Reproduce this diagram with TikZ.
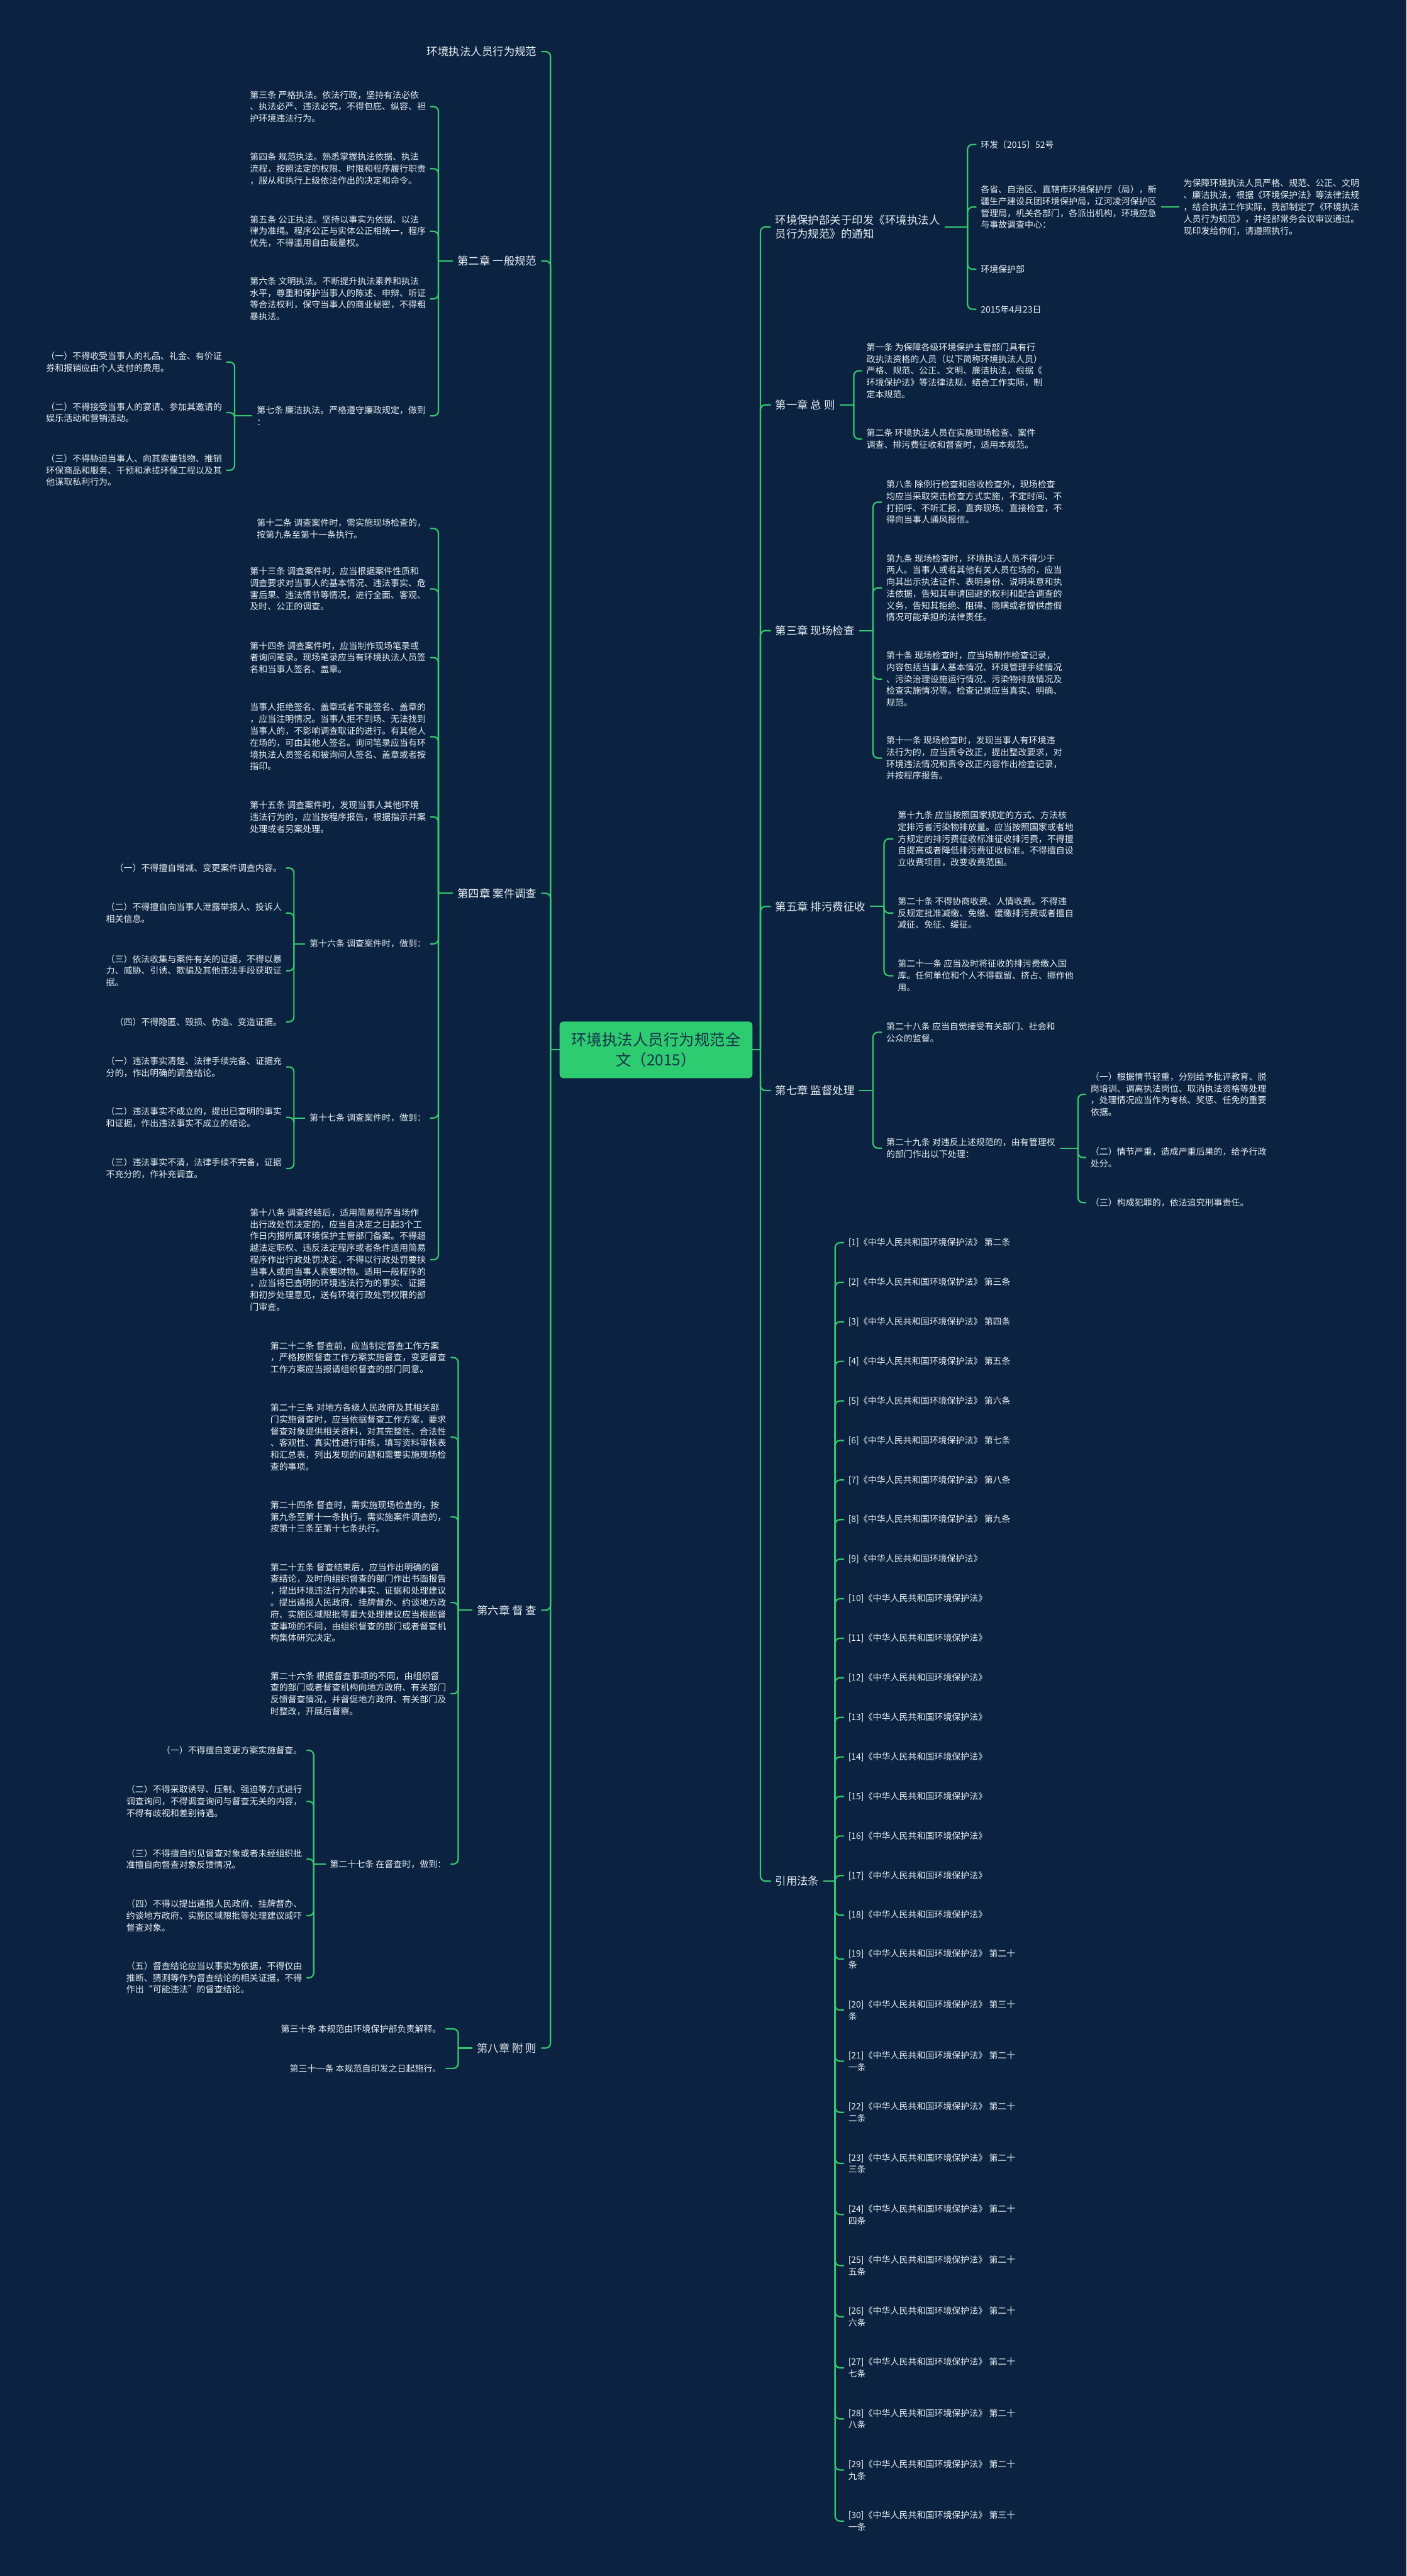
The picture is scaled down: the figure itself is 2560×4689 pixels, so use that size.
\documentclass[tikz,border=0pt]{standalone}
\usepackage{fontspec}
\setmainfont{Noto Sans CJK SC}
\definecolor{bgc}{HTML}{0B2341}
\definecolor{lineg}{HTML}{35C96F}
\definecolor{rootg}{HTML}{2ECC71}
\definecolor{roott}{HTML}{17324A}
\definecolor{txtc}{HTML}{E9EEF2}
\newcommand{\stubL}[2]{\draw[conn] (#1.west) -- (#1.west -| #2,0);}
\newcommand{\kidL}[3]{\draw[conn] (#1.west -| #2,0) |- (#3.east);}
\newcommand{\stubR}[2]{\draw[conn] (#1.east) -- (#1.east -| #2,0);}
\newcommand{\kidR}[3]{\draw[conn] (#1.east -| #2,0) |- (#3.west);}
\begin{document}
\begin{tikzpicture}[x=1pt,y=-1pt,
  conn/.style={draw=lineg, line width=2.5pt, rounded corners=9pt},
  labA/.style={text=txtc, font=\fontsize{20}{26}\selectfont, inner sep=0pt, outer xsep=8pt, align=left},
  labB/.style={text=txtc, font=\fontsize{16}{21.5}\selectfont, inner sep=0pt, outer xsep=8pt, align=left},
  rootbox/.style={fill=rootg, rounded corners=7pt, minimum width=351pt, minimum height=103pt, text=roott, font=\fontsize{28}{37}\selectfont, align=center, inner sep=0pt}]
\useasboundingbox (0,0) rectangle (2560,4689);
\fill[bgc] (0,0) rectangle (2560,4689);

% root
\node[rootbox] (root) at (1194,1911) {环境执法人员行为规范全\\文（2015）};
\coordinate (tl) at (1002,1911);
\coordinate (tr) at (1384,1911);

% ---------------- LEFT ----------------
\node[labA,anchor=east] (L0) at (985,94) {环境执法人员行为规范};
\node[labA,anchor=east] (L1) at (985,475) {第二章 一般规范};
\node[labA,anchor=east] (L2) at (985,1626) {第四章 案件调查};
\node[labA,anchor=east] (L3) at (985,2931) {第六章 督 查};
\node[labA,anchor=east] (L4) at (985,3728) {第八章 附 则};

% chapter 2
\node[labB,anchor=east] (L1a) at (783,194) {第三条 严格执法。依法行政，坚持有法必依\\、执法必严、违法必究，不得包庇、纵容、袒\\护环境违法行为。};
\node[labB,anchor=east] (L1b) at (783,307) {第四条 规范执法。熟悉掌握执法依据、执法\\流程，按照法定的权限、时限和程序履行职责\\，服从和执行上级依法作出的决定和命令。};
\node[labB,anchor=east] (L1c) at (783,421) {第五条 公正执法。坚持以事实为依据、以法\\律为准绳。程序公正与实体公正相统一，程序\\优先，不得滥用自由裁量权。};
\node[labB,anchor=east] (L1d) at (783,544) {第六条 文明执法。不断提升执法素养和执法\\水平，尊重和保护当事人的陈述、申辩、听证\\等合法权利，保守当事人的商业秘密，不得粗\\暴执法。};
\node[labB,anchor=east] (L1e) at (783,757) {第七条 廉洁执法。严格遵守廉政规定，做到\\：};
\node[labB,anchor=east] (L1e1) at (412,659) {（一）不得收受当事人的礼品、礼金、有价证\\券和报销应由个人支付的费用。};
\node[labB,anchor=east] (L1e2) at (412,751) {（二）不得接受当事人的宴请、参加其邀请的\\娱乐活动和营销活动。};
\node[labB,anchor=east] (L1e3) at (412,856) {（三）不得胁迫当事人、向其索要钱物、推销\\环保商品和服务、干预和承揽环保工程以及其\\他谋取私利行为。};

% chapter 4
\node[labB,anchor=east] (L2a) at (783,962) {第十二条 调查案件时，需实施现场检查的，\\按第九条至第十一条执行。};
\node[labB,anchor=east] (L2b) at (783,1072) {第十三条 调查案件时，应当根据案件性质和\\调查要求对当事人的基本情况、违法事实、危\\害后果、违法情节等情况，进行全面、客观、\\及时、公正的调查。};
\node[labB,anchor=east] (L2c) at (783,1197) {第十四条 调查案件时，应当制作现场笔录或\\者询问笔录。现场笔录应当有环境执法人员签\\名和当事人签名、盖章。};
\node[labB,anchor=east] (L2d) at (783,1341) {当事人拒绝签名、盖章或者不能签名、盖章的\\，应当注明情况。当事人拒不到场、无法找到\\当事人的，不影响调查取证的进行。有其他人\\在场的，可由其他人签名。询问笔录应当有环\\境执法人员签名和被询问人签名、盖章或者按\\指印。};
\node[labB,anchor=east] (L2e) at (783,1487) {第十五条 调查案件时，发现当事人其他环境\\违法行为的，应当按程序报告，根据指示并案\\处理或者另案处理。};
\node[labB,anchor=east] (L2f) at (783,1718) {第十六条 调查案件时，做到：};
\node[labB,anchor=east] (L2g) at (783,2035) {第十七条 调查案件时，做到：};
\node[labB,anchor=east] (L2h) at (783,2293) {第十八条 调查终结后，适用简易程序当场作\\出行政处罚决定的，应当自决定之日起3个工\\作日内报所属环境保护主管部门备案。不得超\\越法定职权、违反法定程序或者条件适用简易\\程序作出行政处罚决定，不得以行政处罚要挟\\当事人或向当事人索要财物。适用一般程序的\\，应当将已查明的环境违法行为的事实、证据\\和初步处理意见，送有环境行政处罚权限的部\\门审查。};
\node[labB,anchor=east] (L2f1) at (521,1580) {（一）不得擅自增减、变更案件调查内容。};
\node[labB,anchor=east] (L2f2) at (521,1662) {（二）不得擅自向当事人泄露举报人、投诉人\\相关信息。};
\node[labB,anchor=east] (L2f3) at (521,1767) {（三）依法收集与案件有关的证据，不得以暴\\力、威胁、引诱、欺骗及其他违法手段获取证\\据。};
\node[labB,anchor=east] (L2f4) at (521,1860) {（四）不得隐匿、毁损、伪造、变造证据。};
\node[labB,anchor=east] (L2g1) at (521,1942) {（一）违法事实清楚、法律手续完备、证据充\\分的，作出明确的调查结论。};
\node[labB,anchor=east] (L2g2) at (521,2034) {（二）违法事实不成立的，提出已查明的事实\\和证据，作出违法事实不成立的结论。};
\node[labB,anchor=east] (L2g3) at (521,2127) {（三）违法事实不清，法律手续不完备，证据\\不充分的，作补充调查。};

% chapter 6
\node[labB,anchor=east] (L3a) at (820,2471) {第二十二条 督查前，应当制定督查工作方案\\，严格按照督查工作方案实施督查，变更督查\\工作方案应当报请组织督查的部门同意。};
\node[labB,anchor=east] (L3b) at (820,2616) {第二十三条 对地方各级人民政府及其相关部\\门实施督查时，应当依据督查工作方案，要求\\督查对象提供相关资料，对其完整性、合法性\\、客观性、真实性进行审核，填写资料审核表\\和汇总表，列出发现的问题和需要实施现场检\\查的事项。};
\node[labB,anchor=east] (L3c) at (820,2761) {第二十四条 督查时，需实施现场检查的，按\\第九条至第十一条执行。需实施案件调查的，\\按第十三条至第十七条执行。};
\node[labB,anchor=east] (L3d) at (820,2917) {第二十五条 督查结束后，应当作出明确的督\\查结论，及时向组织督查的部门作出书面报告\\，提出环境违法行为的事实、证据和处理建议\\。提出通报人民政府、挂牌督办、约谈地方政\\府、实施区域限批等重大处理建议应当根据督\\查事项的不同，由组织督查的部门或者督查机\\构集体研究决定。};
\node[labB,anchor=east] (L3e) at (820,3083) {第二十六条 根据督查事项的不同，由组织督\\查的部门或者督查机构向地方政府、有关部门\\反馈督查情况，并督促地方政府、有关部门及\\时整改，开展后督察。};
\node[labB,anchor=east] (L3f) at (820,3393) {第二十七条 在督查时，做到：};
\node[labB,anchor=east] (L3f1) at (558,3186) {（一）不得擅自变更方案实施督查。};
\node[labB,anchor=east] (L3f2) at (558,3279) {（二）不得采取诱导、压制、强迫等方式进行\\调查询问，不得调查询问与督查无关的内容，\\不得有歧视和差别待遇。};
\node[labB,anchor=east] (L3f3) at (558,3384) {（三）不得擅自约见督查对象或者未经组织批\\准擅自向督查对象反馈情况。};
\node[labB,anchor=east] (L3f4) at (558,3487) {（四）不得以提出通报人民政府、挂牌督办、\\约谈地方政府、实施区域限批等处理建议威吓\\督查对象。};
\node[labB,anchor=east] (L3f5) at (558,3600) {（五）督查结论应当以事实为依据，不得仅由\\推断、猜测等作为督查结论的相关证据，不得\\作出“可能违法”的督查结论。};

% chapter 8
\node[labB,anchor=east] (L4a) at (811,3693) {第三十条 本规范由环境保护部负责解释。};
\node[labB,anchor=east] (L4b) at (811,3765) {第三十一条 本规范自印发之日起施行。};

% ---------------- RIGHT ----------------
\node[labA,anchor=west] (R0) at (1403,413) {环境保护部关于印发《环境执法人\\员行为规范》的通知};
\node[labA,anchor=west] (R1) at (1403,737) {第一章 总 则};
\node[labA,anchor=west] (R2) at (1403,1148) {第三章 现场检查};
\node[labA,anchor=west] (R3) at (1403,1650) {第五章 排污费征收};
\node[labA,anchor=west] (R4) at (1403,1985) {第七章 监督处理};
\node[labA,anchor=west] (R5) at (1403,3424) {引用法条};

\node[labB,anchor=west] (R0a) at (1777,263) {环发〔2015〕52号};
\node[labB,anchor=west] (R0b) at (1777,377) {各省、自治区、直辖市环境保护厅（局），新\\疆生产建设兵团环境保护局，辽河凌河保护区\\管理局，机关各部门，各派出机构，环境应急\\与事故调查中心：};
\node[labB,anchor=west] (R0c) at (1777,490) {环境保护部};
\node[labB,anchor=west] (R0d) at (1777,563) {2015年4月23日};
\node[labB,anchor=west] (R0b1) at (2146,377) {为保障环境执法人员严格、规范、公正、文明\\、廉洁执法，根据《环境保护法》等法律法规\\，结合执法工作实际，我部制定了《环境执法\\人员行为规范》，并经部常务会议审议通过。\\现印发给你们，请遵照执行。};

\node[labB,anchor=west] (R1a) at (1569,675) {第一条 为保障各级环境保护主管部门具有行\\政执法资格的人员（以下简称环境执法人员）\\严格、规范、公正、文明、廉洁执法，根据《\\环境保护法》等法律法规，结合工作实际，制\\定本规范。};
\node[labB,anchor=west] (R1b) at (1569,799) {第二条 环境执法人员在实施现场检查、案件\\调查、排污费征收和督查时，适用本规范。};

\node[labB,anchor=west] (R2a) at (1605,914) {第八条 除例行检查和验收检查外，现场检查\\均应当采取突击检查方式实施，不定时间、不\\打招呼、不听汇报，直奔现场、直接检查，不\\得向当事人通风报信。};
\node[labB,anchor=west] (R2b) at (1605,1070) {第九条 现场检查时，环境执法人员不得少于\\两人。当事人或者其他有关人员在场的，应当\\向其出示执法证件、表明身份、说明来意和执\\法依据，告知其申请回避的权利和配合调查的\\义务，告知其拒绝、阻碍、隐瞒或者提供虚假\\情况可能承担的法律责任。};
\node[labB,anchor=west] (R2c) at (1605,1236) {第十条 现场检查时，应当场制作检查记录，\\内容包括当事人基本情况、环境管理手续情况\\、污染治理设施运行情况、污染物排放情况及\\检查实施情况等。检查记录应当真实、明确、\\规范。};
\node[labB,anchor=west] (R2d) at (1605,1380) {第十一条 现场检查时，发现当事人有环境违\\法行为的，应当责令改正，提出整改要求，对\\环境违法情况和责令改正内容作出检查记录，\\并按程序报告。};

\node[labB,anchor=west] (R3a) at (1626,1527) {第十九条 应当按照国家规定的方式、方法核\\定排污者污染物排放量。应当按照国家或者地\\方规定的排污费征收标准征收排污费，不得擅\\自提高或者降低排污费征收标准。不得擅自设\\立收费项目，改变收费范围。};
\node[labB,anchor=west] (R3b) at (1626,1662) {第二十条 不得协商收费、人情收费。不得违\\反规定批准减缴、免缴、缓缴排污费或者擅自\\减征、免征、缓征。};
\node[labB,anchor=west] (R3c) at (1626,1776) {第二十一条 应当及时将征收的排污费缴入国\\库。任何单位和个人不得截留、挤占、挪作他\\用。};

\node[labB,anchor=west] (R4a) at (1605,1879) {第二十八条 应当自觉接受有关部门、社会和\\公众的监督。};
\node[labB,anchor=west] (R4b) at (1605,2090) {第二十九条 对违反上述规范的，由有管理权\\的部门作出以下处理：};
\node[labB,anchor=west] (R4b1) at (1977,1992) {（一）根据情节轻重，分别给予批评教育、脱\\岗培训、调离执法岗位、取消执法资格等处理\\，处理情况应当作为考核、奖惩、任免的重要\\依据。};
\node[labB,anchor=west] (R4b2) at (1977,2107) {（二）情节严重，造成严重后果的，给予行政\\处分。};
\node[labB,anchor=west] (R4b3) at (1977,2189) {（三）构成犯罪的，依法追究刑事责任。};

% references
\foreach \i/\t in {1/第二条,2/第三条,3/第四条,4/第五条,5/第六条,6/第七条,7/第八条,8/第九条}
  {\node[labB,anchor=west] (r\i) at (1536,{2262+(\i-1)*72}) {[\i]《中华人民共和国环境保护法》 \t};}
\foreach \i in {9,...,18}
  {\node[labB,anchor=west] (r\i) at (1536,{2262+(\i-1)*72}) {[\i]《中华人民共和国环境保护法》};}
\node[labB,anchor=west] (r19) at (1536,3566) {[19]《中华人民共和国环境保护法》 第二十\\条};
\node[labB,anchor=west] (r20) at (1536,3659) {[20]《中华人民共和国环境保护法》 第三十\\条};
\node[labB,anchor=west] (r21) at (1536,3752) {[21]《中华人民共和国环境保护法》 第二十\\一条};
\node[labB,anchor=west] (r22) at (1536,3845) {[22]《中华人民共和国环境保护法》 第二十\\二条};
\node[labB,anchor=west] (r23) at (1536,3938) {[23]《中华人民共和国环境保护法》 第二十\\三条};
\node[labB,anchor=west] (r24) at (1536,4031) {[24]《中华人民共和国环境保护法》 第二十\\四条};
\node[labB,anchor=west] (r25) at (1536,4124) {[25]《中华人民共和国环境保护法》 第二十\\五条};
\node[labB,anchor=west] (r26) at (1536,4217) {[26]《中华人民共和国环境保护法》 第二十\\六条};
\node[labB,anchor=west] (r27) at (1536,4310) {[27]《中华人民共和国环境保护法》 第二十\\七条};
\node[labB,anchor=west] (r28) at (1536,4403) {[28]《中华人民共和国环境保护法》 第二十\\八条};
\node[labB,anchor=west] (r29) at (1536,4496) {[29]《中华人民共和国环境保护法》 第二十\\九条};
\node[labB,anchor=west] (r30) at (1536,4589) {[30]《中华人民共和国环境保护法》 第三十\\一条};

% ---------------- CONNECTORS ----------------
\draw[conn] (root.west) -- (tl);
\draw[conn] (root.east) -- (tr);
\foreach \n in {L0,L1,L2,L3,L4} {\draw[conn] (tl) |- (\n.east);}
\foreach \n in {R0,R1,R2,R3,R4,R5} {\draw[conn] (tr) |- (\n.west);}

\stubL{L1}{798}
\foreach \n in {L1a,L1b,L1c,L1d,L1e} {\kidL{L1}{798}{\n}}
\stubL{L1e}{427}
\foreach \n in {L1e1,L1e2,L1e3} {\kidL{L1e}{427}{\n}}

\stubL{L2}{798}
\foreach \n in {L2a,L2b,L2c,L2d,L2e,L2f,L2g,L2h} {\kidL{L2}{798}{\n}}
\stubL{L2f}{535}
\foreach \n in {L2f1,L2f2,L2f3,L2f4} {\kidL{L2f}{535}{\n}}
\stubL{L2g}{535}
\foreach \n in {L2g1,L2g2,L2g3} {\kidL{L2g}{535}{\n}}

\stubL{L3}{834}
\foreach \n in {L3a,L3b,L3c,L3d,L3e,L3f} {\kidL{L3}{834}{\n}}
\stubL{L3f}{571}
\foreach \n in {L3f1,L3f2,L3f3,L3f4,L3f5} {\kidL{L3f}{571}{\n}}

\stubL{L4}{834}
\foreach \n in {L4a,L4b} {\kidL{L4}{834}{\n}}

\stubR{R0}{1761}
\foreach \n in {R0a,R0b,R0c,R0d} {\kidR{R0}{1761}{\n}}
\draw[conn] (R0b.east) -- (R0b1.west);

\stubR{R1}{1554}
\foreach \n in {R1a,R1b} {\kidR{R1}{1554}{\n}}
\stubR{R2}{1589}
\foreach \n in {R2a,R2b,R2c,R2d} {\kidR{R2}{1589}{\n}}
\stubR{R3}{1609}
\foreach \n in {R3a,R3b,R3c} {\kidR{R3}{1609}{\n}}
\stubR{R4}{1589}
\foreach \n in {R4a,R4b} {\kidR{R4}{1589}{\n}}
\stubR{R4b}{1962}
\foreach \n in {R4b1,R4b2,R4b3} {\kidR{R4b}{1962}{\n}}

\stubR{R5}{1520}
\foreach \i in {1,...,30} {\kidR{R5}{1520}{r\i}}
\end{tikzpicture}
\end{document}
